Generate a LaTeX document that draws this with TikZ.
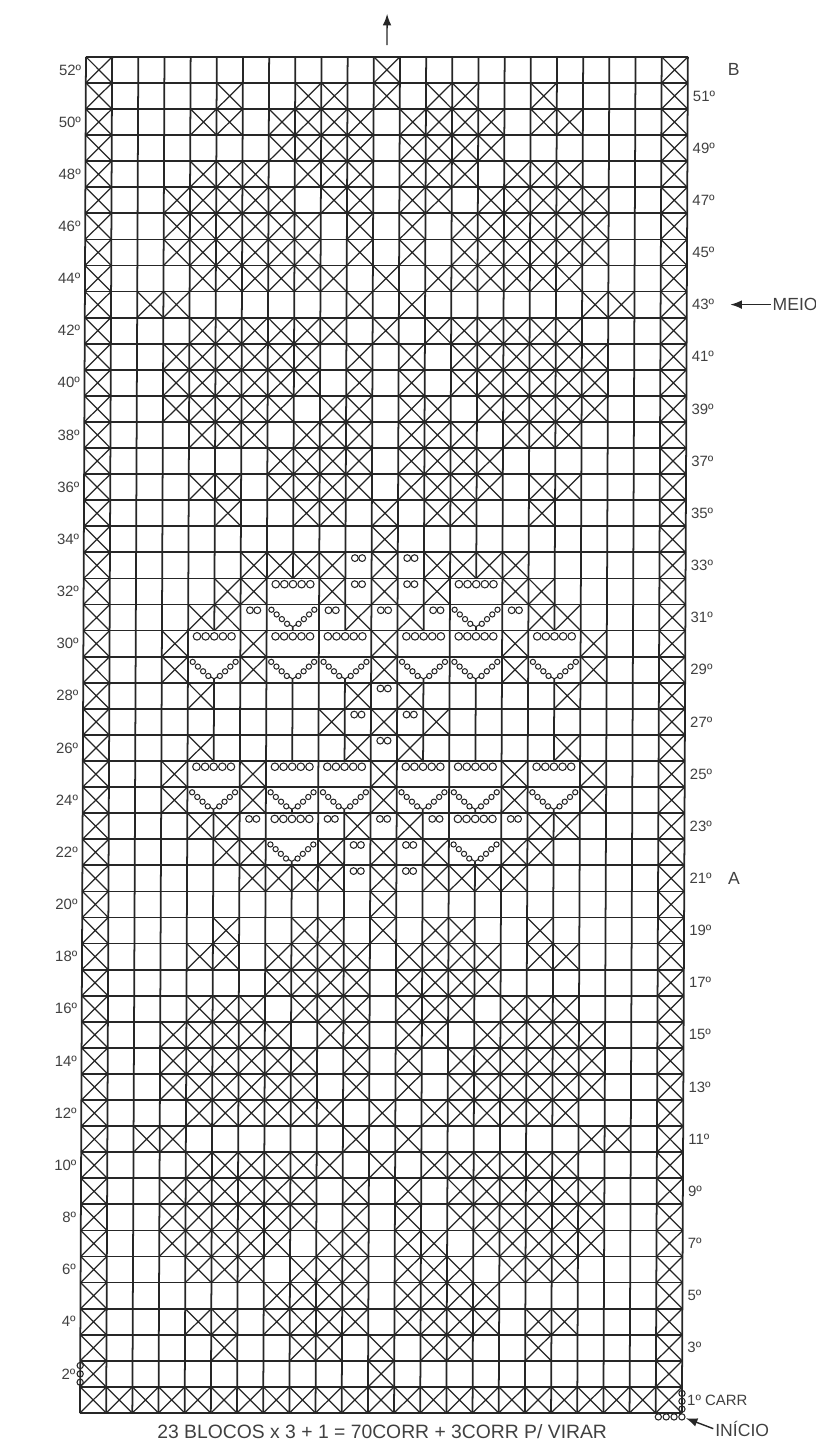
\documentclass[tikz,border=0pt]{standalone}
\usepackage{fontspec}
\setmainfont{Liberation Sans}
\usetikzlibrary{arrows.meta,positioning}
\definecolor{ink}{HTML}{262626}
\definecolor{pencil}{HTML}{404040}
\tikzset{
  >=Latex,
  every node/.style={text=pencil,inner sep=1pt},
  gridline/.style={draw=ink,line width=1.0pt},
  xmark/.style={draw=ink,line width=0.7pt},
  chainst/.style={draw=ink,line width=0.6pt},
  rowlab/.style={font=\fontsize{8.5}{10}\selectfont},
  leftlab/.style={rowlab,anchor=east},
  rightlab/.style={rowlab,anchor=west},
  note/.style={font=\fontsize{10}{12}\selectfont},
  arrow/.style={->,draw=ink,line width=0.8pt}
}
\newcommand{\xcell}[2]{\draw[xmark] ({#1-1},{#2-1}) -- ({#1},{#2}) ({#1-1},{#2}) -- ({#1},{#2-1});}
\newcommand{\xrow}[2]{\foreach \c in {#2} {\xcell{\c}{#1}}}
\newcommand{\xtwin}[2]{\foreach \c in {#2} {\xcell{\c}{#1}\xcell{\c}{#1+32}}}
\newcommand{\barst}[2]{\foreach \i in {-2,-1,0,1,2} {\draw[chainst] ({#1+0.33*\i},{#2-0.22}) circle (0.145);}}
\newcommand{\lacet}[2]{%
  \foreach \s in {0,1,2,3} {%
    \draw[chainst] ({#1-0.82+0.2*\s},{#2-0.2-0.18*\s}) circle (0.1);
    \draw[chainst] ({#1+0.82-0.2*\s},{#2-0.2-0.18*\s}) circle (0.1);}
  \draw[chainst] ({#1-0.15},{#2-0.76}) -- (#1,{#2-0.85}) -- ({#1+0.15},{#2-0.76});}
\newcommand{\twoch}[2]{\foreach \i in {-1,1} {\draw[chainst] ({#1-0.5+0.14*\i},{#2-0.22}) circle (0.13);}}
\newcommand{\barrow}[2]{\foreach \c in {#2} {\barst{\c}{#1}}}
\newcommand{\lacrow}[2]{\foreach \c in {#2} {\lacet{\c}{#1}}}
\newcommand{\chrow}[2]{\foreach \c in {#2} {\twoch{\c}{#1}}}

\begin{document}
\begin{tikzpicture}[x=0.5234cm,y=0.5216cm]
  \useasboundingbox (-3.057,-1.265) rectangle (28.124,54.18);
  \begin{scope}[xslant=0.0044]
  % grid
  \foreach \k in {0,1,2,3,4,6,7,9,11,12,14,16,17,19,20,21,22,23}
    \draw[gridline] (\k,0) -- (\k,52);
  \foreach \k in {8,15}
    \draw[gridline] (\k,0) -- (\k,21.15) (\k,23) -- (\k,23.15) (\k,25) -- (\k,28.15) (\k,30) -- (\k,30.15) (\k,32) -- (\k,52);
  \foreach \k in {5,10,13,18}
    \draw[gridline] (\k,0) -- (\k,23.15) (\k,25) -- (\k,28.15) (\k,30) -- (\k,52);
  \foreach \r in {0,...,52}
    \draw[gridline] (0,\r) -- (23,\r);

  % blocks
  \foreach \c in {1,...,23} {\xcell{\c}{1}}
  \foreach \r in {2,...,52} {\xcell{1}{\r}\xcell{23}{\r}}
  \xtwin{2}{12}
  \xtwin{3}{6,9,10,12,14,15,18}
  \xtwin{4}{5,6,8,9,10,11,13,14,15,16,18,19}
  \xtwin{5}{8,9,10,11,13,14,15,16}
  \xtwin{6}{5,6,7,9,10,11,13,14,15,17,18,19}
  \xtwin{7}{4,5,6,7,8,10,11,13,14,16,17,18,19,20}
  \xtwin{8}{4,5,6,7,8,9,11,13,15,16,17,18,19,20}
  \xtwin{9}{4,5,6,7,8,9,11,13,15,16,17,18,19,20}
  \xtwin{10}{5,6,7,8,9,10,12,14,15,16,17,18,19}
  \xtwin{11}{3,4,11,13,20,21}
  \xtwin{12}{5,6,7,8,9,10,12,14,15,16,17,18,19}
  \xtwin{13}{4,5,6,7,8,9,11,13,15,16,17,18,19,20}
  \xtwin{14}{4,5,6,7,8,9,11,13,15,16,17,18,19,20}
  \xtwin{15}{4,5,6,7,8,10,11,13,14,16,17,18,19,20}
  \xtwin{16}{5,6,7,9,10,11,13,14,15,17,18,19}
  \xtwin{17}{8,9,10,11,13,14,15,16}
  \xtwin{18}{5,6,8,9,10,11,13,14,15,16,18,19}
  \xtwin{19}{6,9,10,12,14,15,18}
  \xtwin{20}{12}
  \xrow{33}{7,8,9,10,12,14,15,16,17}
  \xrow{32}{6,7,10,12,14,17,18}
  \xrow{31}{5,6,11,13,18,19}
  \xrow{30}{4,7,12,17,20}
  \xrow{29}{4,7,12,17,20}
  \xrow{28}{5,11,13,19}
  \xrow{27}{10,12,14}
  \xrow{26}{5,11,13,19}
  \xrow{25}{4,7,12,17,20}
  \xrow{24}{4,7,12,17,20}
  \xrow{23}{5,6,11,13,18,19}
  \xrow{22}{6,7,10,12,14,17,18}
  \xrow{21}{7,8,9,10,12,14,15,16,17}

  % lacets
  \barrow{32}{8,15}
  \barrow{30}{5,8,10,13,15,18}
  \barrow{25}{5,8,10,13,15,18}
  \barrow{23}{8,15}
  \lacrow{31}{8,15}
  \lacrow{29}{5,8,10,13,15,18}
  \lacrow{24}{5,8,10,13,15,18}
  \lacrow{22}{8,15}
  \chrow{33}{11,13}
  \chrow{32}{11,13}
  \chrow{31}{7,10,12,14,17}
  \chrow{28}{12}
  \chrow{27}{11,13}
  \chrow{26}{12}
  \chrow{23}{7,10,12,14,17}
  \chrow{22}{11,13}
  \chrow{21}{11,13}

  % chains
  \foreach \y in {1.18,1.5,1.82} {\draw[chainst] (0,\y) circle (0.12);}
  \foreach \y in {-0.15,0.15,0.45,0.75} {\draw[chainst] (23,\y) circle (0.12);}
  \foreach \x in {22.1,22.4,22.7} {\draw[chainst] (\x,-0.15) circle (0.12);}

  % row numbers
  \foreach \r in {2,4,...,52} {\node[leftlab] (l\r) at (-0.1,\r-0.5) {\r º};}
  \foreach \r in {3,5,...,51} {\node[rightlab] (r\r) at (23.12,\r-0.5) {\r º};}
  \node[rightlab] (r1) at (23.12,0.5) {1º CARR};

  \node[note] (bmark) at (24.75,51.5) {B};
  \node[note] (amark) at (24.9,20.5) {A};
  \node[note,anchor=west] (meio) at (26.2,42.5) {MEIO};
  \node[note,anchor=west] (inicio) at (24.2,-0.6) {INÍCIO};
  \node[font=\fontsize{11}{13}\selectfont] (calc) at (11.55,-0.72) {23 BLOCOS x 3 + 1 = 70CORR + 3CORR P/ VIRAR};

  \coordinate (chainend) at (23.15,-0.2);
  \coordinate (upfrom) at (11.5,52.45);
  \coordinate (upto) at (11.5,53.65);
  \draw[arrow,shorten >=8pt] (meio.west) -- (r43.east);
  \draw[arrow] (inicio.west) -- (chainend);
  \draw[arrow] (upfrom) -- (upto);
  \end{scope}
\end{tikzpicture}
\end{document}
